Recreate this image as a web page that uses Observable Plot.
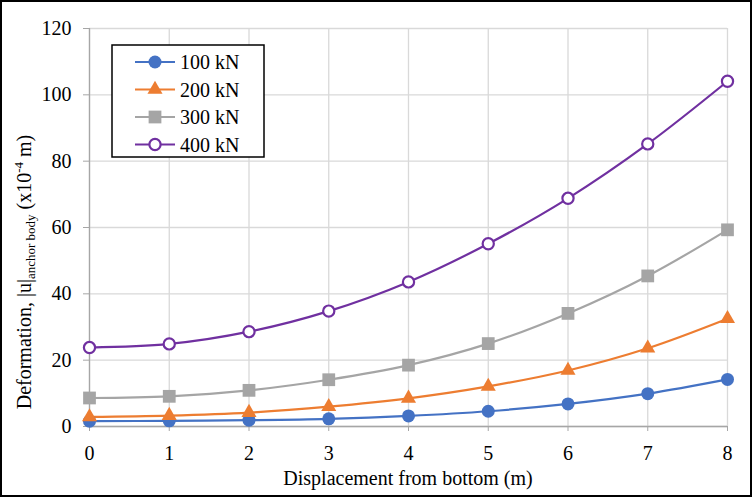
<!DOCTYPE html>
<html>
<head>
<meta charset="utf-8">
<script src="https://cdn.jsdelivr.net/npm/d3@7"></script>
<script src="https://cdn.jsdelivr.net/npm/@observablehq/plot@0.6"></script>
<style>
  html, body { margin: 0; padding: 0; background: #fff; }
  #wrap { position: relative; width: 752px; height: 497px; overflow: hidden; }
  #wrap::after { content: ""; position: absolute; inset: 0; border: 2px solid #000; pointer-events: none; }
  #wrap svg { display: block; font-family: "Liberation Serif", "Times New Roman", serif; }
</style>
</head>
<body>
<div id="wrap"></div>
<script>
// Displacement positions along the anchor (m)
const positions = [0, 1, 2, 3, 4, 5, 6, 7, 8];

// Deformation |u| of the anchor body (x10^-4 m) for each load
const load100 = [1.6, 1.7, 1.9, 2.3, 3.2, 4.6, 6.8, 9.9, 14.2];
const load200 = [2.9, 3.3, 4.2, 6.0, 8.5, 12.1, 16.9, 23.6, 32.5];
const load300 = [8.6, 9.1, 10.9, 14.1, 18.5, 25.0, 34.1, 45.4, 59.3];
const load400 = [23.8, 24.9, 28.6, 34.8, 43.6, 55.1, 68.8, 85.2, 104.1];

const seriesNames = ["100 kN", "200 kN", "300 kN", "400 kN"];
const seriesColors = ["#4472C4", "#ED7D31", "#A5A5A5", "#7030A0"];
const xTicks = [0, 1, 2, 3, 4, 5, 6, 7, 8];
const yTicks = [0, 20, 40, 60, 80, 100, 120];

const seriesValues = [load100, load200, load300, load400];
const rows = seriesValues.flatMap((vals, i) =>
  vals.map((v, j) => ({ x: positions[j], y: v, s: seriesNames[i] })));
const bySeries = name => rows.filter(d => d.s === name);

const markerStyles = [
  { symbol: "circle", r: 6.5, fill: seriesColors[0], stroke: "none" },
  { symbol: "triangle", r: 5.6, fill: seriesColors[1], stroke: "none" },
  { symbol: "square", r: 7.2, fill: seriesColors[2], stroke: "none" },
  { symbol: "circle", r: 5.6, fill: "white", stroke: seriesColors[3], strokeWidth: 2.2 }
];

const W = 752, H = 497;
const chart = Plot.plot({
  width: W,
  height: H,
  marginLeft: 89,
  marginRight: 25,
  marginTop: 28,
  marginBottom: 71,
  style: { fontFamily: "Liberation Serif, Times New Roman, serif", fontSize: "20px", color: "#000", background: "#fff" },
  x: { domain: [0, 8] },
  y: { domain: [0, 120] },
  marks: [
    Plot.gridX(xTicks, { stroke: "#d9d9d9", strokeOpacity: 1, strokeWidth: 1.3 }),
    Plot.gridY(yTicks, { stroke: "#d9d9d9", strokeOpacity: 1, strokeWidth: 1.3 }),
    Plot.ruleX([0], { stroke: "#a6a6a6", strokeWidth: 1.3 }),
    Plot.ruleY([0], { stroke: "#a6a6a6", strokeWidth: 1.3 }),
    Plot.axisX({ ticks: xTicks, tickSize: 5, tickPadding: 14, stroke: "#a6a6a6", fill: "#000", label: null, fontSize: 20 }),
    Plot.axisY({ ticks: yTicks, tickSize: 6, tickPadding: 12, stroke: "#a6a6a6", fill: "#000", label: null, fontSize: 20 }),
    ...seriesNames.map((name, i) =>
      Plot.line(bySeries(name), { x: "x", y: "y", stroke: seriesColors[i], strokeWidth: 2.2, curve: "catmull-rom" })),
    ...seriesNames.map((name, i) =>
      Plot.dot(bySeries(name), { x: "x", y: "y", ...markerStyles[i] }))
  ]
});

const svg = d3.select(chart);

// Axis titles
svg.append("text")
  .attr("x", 408).attr("y", 485)
  .attr("text-anchor", "middle")
  .attr("font-size", 20).attr("fill", "#000")
  .text("Displacement from bottom (m)");

const yl = svg.append("text")
  .attr("transform", "translate(31,272) rotate(-90)")
  .attr("text-anchor", "middle")
  .attr("font-size", 20).attr("fill", "#000");
yl.append("tspan").text("Deformation, |u|");
yl.append("tspan").attr("font-size", 13).attr("dy", 4).text("anchor body");
yl.append("tspan").attr("dy", -4).text(" (x10");
yl.append("tspan").attr("font-size", 13).attr("dy", -8).text("-4");
yl.append("tspan").attr("dy", 8).text(" m)");

// Legend box
const lg = svg.append("g").attr("transform", "translate(112,45)");
lg.append("rect").attr("x", 0).attr("y", 0).attr("width", 152).attr("height", 112)
  .attr("fill", "#fff").attr("stroke", "#000").attr("stroke-width", 1.5);
const symbolTypes = { circle: d3.symbolCircle, triangle: d3.symbolTriangle, square: d3.symbolSquare };
seriesNames.forEach((name, i) => {
  const cy = 17 + i * 27.5;
  const row = lg.append("g").attr("transform", `translate(0,${cy})`);
  row.append("line").attr("x1", 23).attr("x2", 63).attr("y1", 0).attr("y2", 0)
    .attr("stroke", seriesColors[i]).attr("stroke-width", 2.2);
  const m = markerStyles[i];
  row.append("path")
    .attr("transform", "translate(43,0)")
    .attr("d", d3.symbol(symbolTypes[m.symbol], Math.PI * m.r * m.r)())
    .attr("fill", m.fill).attr("stroke", m.stroke === "none" ? null : m.stroke)
    .attr("stroke-width", m.strokeWidth || null);
  row.append("text").attr("x", 68).attr("y", 7)
    .attr("text-anchor", "start")
    .attr("font-size", 20).attr("fill", "#000").text(name);
});

document.getElementById("wrap").appendChild(chart);
</script>
</body>
</html>
